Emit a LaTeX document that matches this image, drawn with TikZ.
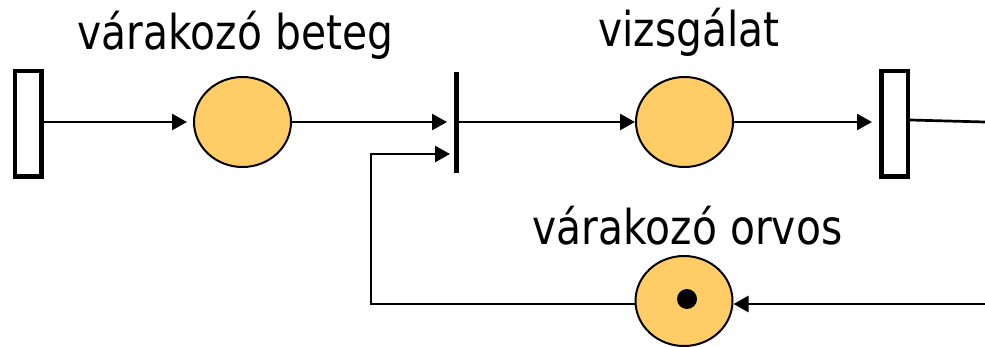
\documentclass[tikz,border=0pt]{standalone}
\usepackage{fontspec}
\setmainfont{DejaVu Sans}[FakeStretch=0.85]
\usetikzlibrary{arrows.meta,shapes.geometric}
\definecolor{placefill}{HTML}{FFCC66}
\begin{document}
\begin{tikzpicture}[x=1pt,y=-1pt,
  place/.style={ellipse,draw,line width=2pt,fill=placefill,
    minimum width=97pt,minimum height=90pt,inner sep=0pt},
  boxtrans/.style={rectangle,draw,line width=4.5pt,
    minimum width=26.5pt,minimum height=105.5pt,inner sep=0pt},
  bartrans/.style={rectangle,fill=black,minimum width=5pt,
    minimum height=101pt,inner sep=0pt,outer sep=0pt},
  token/.style={circle,fill=black,minimum size=20pt,inner sep=0pt},
  arc/.style={line width=2.7pt,-{Triangle[length=15pt,width=16pt]}},
  plainarc/.style={line width=2.7pt},
  label/.style={anchor=base,inner sep=0pt,
    font=\fontsize{48}{58}\selectfont}]
  \useasboundingbox (0,0) rectangle (985,347);

  % transitions
  \node[boxtrans] (src) at (28,124) {};
  \node[bartrans] (start) at (456.5,122.5) {};
  \node[boxtrans] (finish) at (894.5,124) {};

  % places
  \node[place] (patient) at (242.5,122) {};
  \node[place] (exam) at (684.5,122) {};
  \node[place] (doctor) at (684,301) {};
  \node[token] (tok) at (687,299) {};

  % labels
  \node[label] (lp) at (235.5,50) {várakozó beteg};
  \node[label] (le) at (689,47) {vizsgálat};
  \node[label] (ld) at (687.5,245) {várakozó orvos};

  % loose ends at the right border
  \coordinate (outA) at (985,122);
  \coordinate (inB) at (985,304);
  \coordinate (bend1) at (371,304);
  \coordinate (bend2) at (371,154);

  % arcs
  \draw[arc,shorten >=6pt] (src.east |- 0,122) -- (patient.west);
  \draw[arc,shorten >=7pt] (patient.east) -- (start.west |- 0,122);
  \draw[arc] (start.east |- 0,122) -- (exam.west);
  \draw[arc,shorten >=7pt] (exam.east) -- (finish.west |- 0,122);
  \draw[plainarc] (finish.east |- 0,120) -- (outA);
  \draw[arc] (inB) -- (doctor.east |- 0,304);
  \draw[arc,shorten >=4pt] (doctor.west |- 0,304) -- (bend1) -- (bend2)
    -- (start.west |- 0,154);
\end{tikzpicture}
\end{document}
